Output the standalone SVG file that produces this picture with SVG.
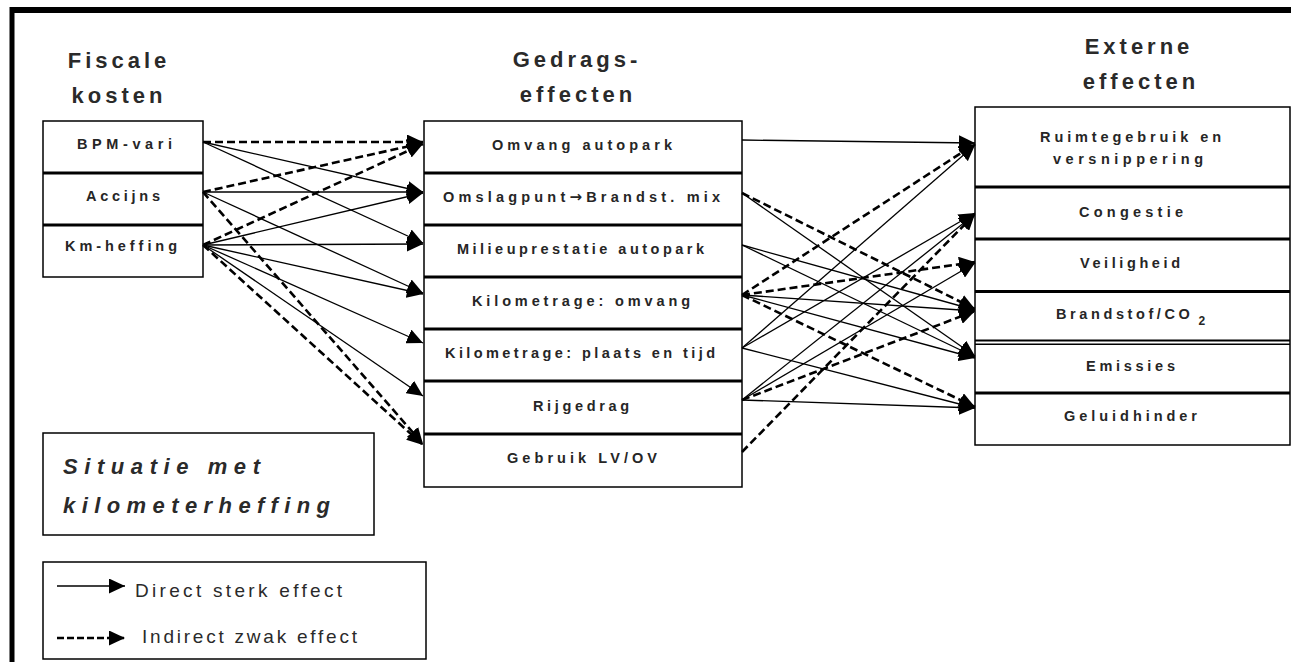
<svg xmlns="http://www.w3.org/2000/svg" width="1291" height="662" viewBox="0 0 1291 662">
<style>
.h{font-family:"Liberation Sans",Arial,sans-serif;font-weight:bold;font-size:22px;fill:#2a2a2a;letter-spacing:4px;text-anchor:middle}
.t{font-family:"Liberation Sans",Arial,sans-serif;font-weight:bold;font-size:14.5px;fill:#262626}
.box{fill:#fff;stroke:#000;stroke-width:1.5}
.div{stroke:#000;stroke-width:3}
.s{fill:none;stroke:#000;stroke-width:1.3;marker-end:url(#ah)}
.d{fill:none;stroke:#000;stroke-width:2.6;stroke-dasharray:8 4;marker-end:url(#ah)}
.it{font-family:"Liberation Sans",Arial,sans-serif;font-weight:bold;font-style:italic;font-size:22px;fill:#2a2a2a}
.lg{font-family:"Liberation Sans",Arial,sans-serif;font-size:19px;fill:#2a2a2a}
.arr{font-family:"DejaVu Sans",sans-serif;font-weight:bold;font-size:15px}
</style>
<defs>
<marker id="ah" markerUnits="userSpaceOnUse" markerWidth="17" markerHeight="15" refX="16" refY="7.5" orient="auto" viewBox="0 0 17 15">
<path d="M0,0 L16,7.5 L0,15 Z" fill="#000"/>
</marker>
</defs>
<rect width="1291" height="662" fill="#fff"/>
<g id="frame">
<line x1="10" y1="10" x2="1291" y2="10" stroke="#000" stroke-width="6"/>
<line x1="12" y1="7" x2="12" y2="662" stroke="#000" stroke-width="5"/>
</g>
<g id="headings">
<text class="h" x="119" y="68">Fiscale</text>
<text class="h" x="119" y="103">kosten</text>
<text class="h" x="577" y="67">Gedrags-</text>
<text class="h" x="578" y="102">effecten</text>
<text class="h" x="1139" y="54">Externe</text>
<text class="h" x="1141" y="89">effecten</text>
</g>
<g id="fiscale-kosten">
<rect class="box" x="43" y="121" width="160" height="156"/>
<line class="div" x1="43" y1="173" x2="203" y2="173"/>
<line class="div" x1="43" y1="225" x2="203" y2="225"/>
<g id="n-bpm"><text class="t" x="77" y="149" textLength="95" lengthAdjust="spacing">BPM-vari</text></g>
<g id="n-accijns"><text class="t" x="86" y="201" textLength="74" lengthAdjust="spacing">Accijns</text></g>
<g id="n-kmheffing"><text class="t" x="65" y="251" textLength="112" lengthAdjust="spacing">Km-heffing</text></g>
</g>
<g id="gedragseffecten">
<rect class="box" x="424" y="121" width="318" height="366"/>
<line class="div" x1="424" y1="173" x2="742" y2="173"/>
<line class="div" x1="424" y1="225" x2="742" y2="225"/>
<line class="div" x1="424" y1="277" x2="742" y2="277"/>
<line class="div" x1="424" y1="329" x2="742" y2="329"/>
<line class="div" x1="424" y1="381" x2="742" y2="381"/>
<line class="div" x1="424" y1="434" x2="742" y2="434"/>
<g id="n-omvang"><text class="t" x="492" y="149.5" textLength="180" lengthAdjust="spacing">Omvang autopark</text></g>
<g id="n-omslagpunt"><text class="t" x="443" y="201.7" textLength="277" lengthAdjust="spacing">Omslagpunt<tspan class="arr">→</tspan>Brandst. mix</text></g>
<g id="n-milieu"><text class="t" x="457" y="253.9" textLength="247" lengthAdjust="spacing">Milieuprestatie autopark</text></g>
<g id="n-kmomvang"><text class="t" x="472" y="306" textLength="218" lengthAdjust="spacing">Kilometrage: omvang</text></g>
<g id="n-kmplaats"><text class="t" x="445" y="358.3" textLength="270" lengthAdjust="spacing">Kilometrage: plaats en tijd</text></g>
<g id="n-rijgedrag"><text class="t" x="533" y="410.5" textLength="96" lengthAdjust="spacing">Rijgedrag</text></g>
<g id="n-gebruik"><text class="t" x="507" y="462.7" textLength="150" lengthAdjust="spacing">Gebruik LV/OV</text></g>
</g>
<g id="externe-effecten">
<rect class="box" x="975" y="107" width="315" height="338"/>
<line class="div" x1="975" y1="187" x2="1290" y2="187"/>
<line class="div" x1="975" y1="239" x2="1290" y2="239"/>
<line class="div" x1="975" y1="291.5" x2="1290" y2="291.5"/>
<line x1="975" y1="340.5" x2="1290" y2="340.5" stroke="#000" stroke-width="2"/>
<line x1="975" y1="344.2" x2="1290" y2="344.2" stroke="#000" stroke-width="1.5"/>
<line class="div" x1="975" y1="393" x2="1290" y2="393"/>
<g id="n-ruimte">
<text class="t" x="1040" y="141.7" textLength="181" lengthAdjust="spacing">Ruimtegebruik en</text>
<text class="t" x="1053" y="164" textLength="150" lengthAdjust="spacing">versnippering</text>
</g>
<g id="n-congestie"><text class="t" x="1079" y="216.7" textLength="104" lengthAdjust="spacing">Congestie</text></g>
<g id="n-veiligheid"><text class="t" x="1080" y="268" textLength="100" lengthAdjust="spacing">Veiligheid</text></g>
<g id="n-brandstof"><text class="t" x="1056" y="319.3" style="letter-spacing:3.6px">Brandstof/CO<tspan dx="5" dy="6" style="font-size:12px;letter-spacing:0">2</tspan></text></g>
<g id="n-emissies"><text class="t" x="1086" y="370.7" textLength="89" lengthAdjust="spacing">Emissies</text></g>
<g id="n-geluid"><text class="t" x="1064" y="420.7" textLength="133" lengthAdjust="spacing">Geluidhinder</text></g>
</g>
<g id="connectors">
<path class="d" d="M203,142 L423,142"/>
<path class="s" d="M203,142 L423,192"/>
<path class="s" d="M203,142 L423,243"/>
<path class="d" d="M203,192 L423,143"/>
<path class="s" d="M203,192 L423,192"/>
<path class="s" d="M203,192 L423,293"/>
<path class="d" d="M203,192 L423,444"/>
<path class="d" d="M203,245 L423,144"/>
<path class="s" d="M203,245 L423,193"/>
<path class="s" d="M203,245 L423,244"/>
<path class="s" d="M203,245 L423,294"/>
<path class="s" d="M203,245 L423,343"/>
<path class="s" d="M203,245 L423,396"/>
<path class="d" d="M203,245 L423,445"/>
<path class="s" d="M742,140 L975,143"/>
<path class="d" d="M742,193 L975,309"/>
<path class="s" d="M742,193 L975,356"/>
<path class="s" d="M742,245 L975,310"/>
<path class="s" d="M742,245 L975,357"/>
<path class="d" d="M742,295 L975,144"/>
<path class="d" d="M742,295 L975,262"/>
<path class="s" d="M742,295 L975,311"/>
<path class="s" d="M742,295 L975,358"/>
<path class="d" d="M742,295 L975,407"/>
<path class="s" d="M742,348 L975,145"/>
<path class="s" d="M742,348 L975,213"/>
<path class="s" d="M742,348 L975,408"/>
<path class="s" d="M742,400 L975,214"/>
<path class="s" d="M742,400 L975,263"/>
<path class="d" d="M742,400 L975,311"/>
<path class="s" d="M742,400 L975,408"/>
<path class="d" d="M742,452 L975,214"/>
</g>
<g id="situatie">
<rect class="box" x="43" y="433" width="331" height="102"/>
<text class="it" x="63" y="474" textLength="197" lengthAdjust="spacing">Situatie met</text>
<text class="it" x="63" y="513" textLength="267" lengthAdjust="spacing">kilometerheffing</text>
</g>
<g id="legend">
<rect class="box" x="43" y="562" width="383" height="97"/>
<path class="s" d="M57,586 L125,586"/>
<text class="lg" x="135" y="597" textLength="207" lengthAdjust="spacing">Direct sterk effect</text>
<path class="d" d="M57,638 L125,638" style="stroke-dasharray:7 3"/>
<text class="lg" x="142" y="643" textLength="215" lengthAdjust="spacing">Indirect zwak effect</text>
</g>
</svg>
